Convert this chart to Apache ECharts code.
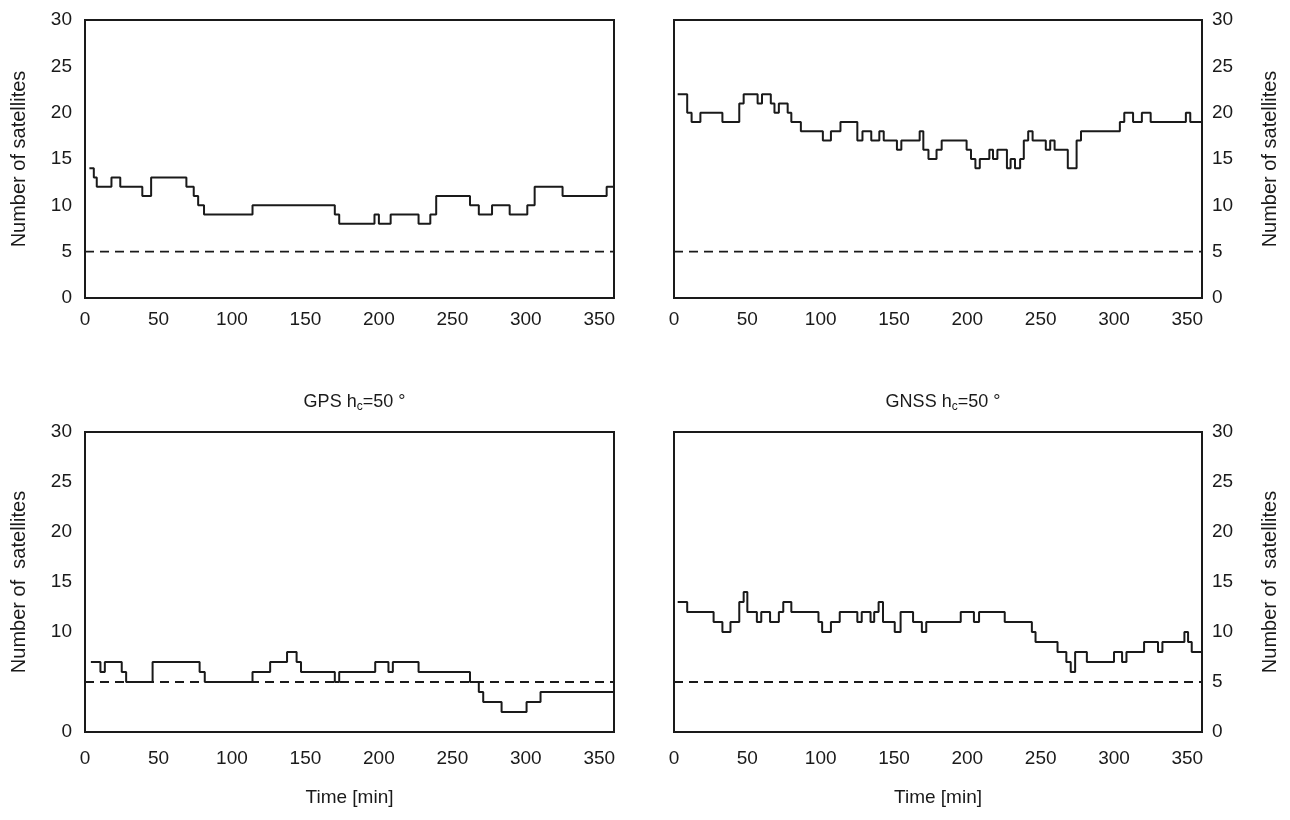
<!DOCTYPE html>
<html>
<head>
<meta charset="utf-8">
<script src="https://cdn.jsdelivr.net/npm/echarts@6/dist/echarts.min.js"></script>
<style>
html, body { margin: 0; padding: 0; background: #fff; }
#chart { width: 1290px; height: 820px; }
</style>
</head>
<body>
<div id="chart"></div>
<script>
// step changes: time [min] where a new satellite count starts, and that count
var gps15Time = [3, 6, 8, 18, 24, 39, 45, 69, 74, 77, 81, 114, 170, 173, 197, 200, 208, 227, 235, 239, 262, 268, 277, 289, 301, 306, 325, 355, 360];
var gps15Sats = [14, 13, 12, 13, 12, 11, 13, 12, 11, 10, 9, 10, 9, 8, 9, 8, 9, 8, 9, 11, 10, 9, 10, 9, 10, 12, 11, 12, 12];

var gnss15Time = [2.5, 9, 12, 18, 33, 44.5, 47.5, 57, 60, 66, 68.5, 71.5, 77.5, 80, 86.5, 101.5, 107, 113.5, 125, 128.5, 134.5, 140, 143, 152, 155, 167.5, 170, 173.5, 179, 182.5, 199.5, 202.5, 205.5, 208.5, 215, 217.5, 220.5, 227, 229.5, 232.5, 236, 238.5, 241.5, 244.5, 253.5, 256.5, 259.5, 268.5, 274.5, 277.5, 304, 307, 313, 319, 325, 349, 352, 360];
var gnss15Sats = [22, 20, 19, 20, 19, 21, 22, 21, 22, 21, 20, 21, 20, 19, 18, 17, 18, 19, 17, 18, 17, 18, 17, 16, 17, 18, 16, 15, 16, 17, 16, 15, 14, 15, 16, 15, 16, 14, 15, 14, 15, 17, 18, 17, 16, 17, 16, 14, 17, 18, 19, 20, 19, 20, 19, 20, 19, 19];

var gps50Time = [4, 10.5, 13.5, 25, 28, 46, 78, 81.5, 114, 126, 137.5, 144, 147, 170, 173, 197.5, 206.5, 209.5, 227, 262, 268, 271, 283.5, 300.5, 310, 360];
var gps50Sats = [7, 6, 7, 6, 5, 7, 6, 5, 6, 7, 8, 7, 6, 5, 6, 7, 6, 7, 6, 5, 4, 3, 2, 3, 4, 4];

var gnss50Time = [2.5, 9, 27, 33, 38.5, 44.5, 47.5, 50, 56.5, 59.5, 65.5, 71.5, 74.5, 80, 98.5, 101, 107, 113, 125, 128, 134, 136.5, 139.5, 142.5, 150.5, 154.5, 163, 169, 172, 195.5, 204.5, 208, 225.5, 244, 246.5, 261.5, 267.5, 270.5, 273.5, 281.5, 300, 305.5, 308.5, 320.5, 330, 333, 348, 350.5, 353, 360];
var gnss50Sats = [13, 12, 11, 10, 11, 13, 14, 12, 11, 12, 11, 12, 13, 12, 11, 10, 11, 12, 11, 12, 11, 12, 13, 11, 10, 12, 11, 10, 11, 12, 11, 12, 11, 10, 9, 8, 7, 6, 8, 7, 8, 7, 8, 9, 8, 9, 10, 9, 8, 8];

var minSats = 5;          // dashed threshold
var timeRange = [0, 360];
var satRange = [0, 30];
var panelTitles = ['', '', 'GPS h{sub|c}=50 °', 'GNSS h{sub|c}=50 °'];

var myChart = echarts.init(document.getElementById('chart'));

var font = 'Liberation Sans, Arial, sans-serif';
var ink = '#1a1a1a';

function pairs(t, v) {
    var out = [];
    for (var i = 0; i < t.length; i++) {
        out.push([t[i], v[i]]);
    }
    return out;
}

var panels = [
    pairs(gps15Time, gps15Sats),
    pairs(gnss15Time, gnss15Sats),
    pairs(gps50Time, gps50Sats),
    pairs(gnss50Time, gnss50Sats)
];

var grids = [
    {left: 85, top: 20, width: 529, height: 278},
    {left: 674, top: 20, width: 528, height: 278},
    {left: 85, top: 432, width: 529, height: 300},
    {left: 674, top: 432, width: 528, height: 300}
];

var xAxes = [], yAxes = [], series = [], titles = [];

for (var i = 0; i < 4; i++) {
    var bottom = (i >= 2);
    grids[i].show = true;
    grids[i].borderColor = ink;
    grids[i].borderWidth = 2;

    xAxes.push({
        type: 'value',
        gridIndex: i,
        min: timeRange[0],
        max: timeRange[1],
        interval: 50,
        name: bottom ? 'Time [min]' : '',
        nameLocation: 'middle',
        nameGap: 56,
        nameTextStyle: {fontFamily: font, fontSize: 19, color: ink},
        axisLine: {show: false},
        axisTick: {show: false},
        splitLine: {show: false},
        axisLabel: {
            margin: bottom ? 17 : 12,
            fontFamily: font,
            fontSize: 19,
            color: ink,
            formatter: function (v) { return v % 50 === 0 ? v : ''; }
        }
    });

    var right = (i % 2 === 1);
    yAxes.push({
        type: 'value',
        gridIndex: i,
        position: right ? 'right' : 'left',
        min: satRange[0],
        max: satRange[1],
        interval: 5,
        name: bottom ? 'Number of  satellites' : 'Number of satellites',
        nameLocation: 'middle',
        nameRotate: 90,
        nameGap: right ? 58 : 56,
        nameTextStyle: {fontFamily: font, fontSize: 20, color: ink},
        axisLine: {show: false},
        axisTick: {show: false},
        splitLine: {show: false},
        axisLabel: {
            margin: right ? 10 : 13,
            fontFamily: font,
            fontSize: 19,
            color: ink,
            formatter: (i === 2) ? function (v) { return v === 5 ? '' : v; } : '{value}'
        }
    });

    series.push({
        type: 'line',
        step: 'end',
        xAxisIndex: i,
        yAxisIndex: i,
        data: panels[i],
        symbol: 'none',
        silent: true,
        lineStyle: {color: ink, width: 2}
    });

    series.push({
        type: 'line',
        xAxisIndex: i,
        yAxisIndex: i,
        data: [[timeRange[0], minSats], [timeRange[1], minSats]],
        symbol: 'none',
        silent: true,
        lineStyle: {color: ink, width: 1.8, type: [9, 6]}
    });

    if (panelTitles[i]) {
        titles.push({
            text: panelTitles[i],
            left: grids[i].left + grids[i].width / 2,
            textAlign: 'center',
            top: 386,
            textStyle: {
                fontFamily: font,
                fontSize: 18,
                fontWeight: 'normal',
                color: ink,
                rich: {
                    sub: {fontFamily: font, fontSize: 12, color: ink, padding: [10, 0, 0, 0]}
                }
            }
        });
    }
}

myChart.setOption({
    backgroundColor: '#fff',
    animation: false,
    title: titles,
    grid: grids,
    xAxis: xAxes,
    yAxis: yAxes,
    series: series
});
</script>
</body>
</html>
